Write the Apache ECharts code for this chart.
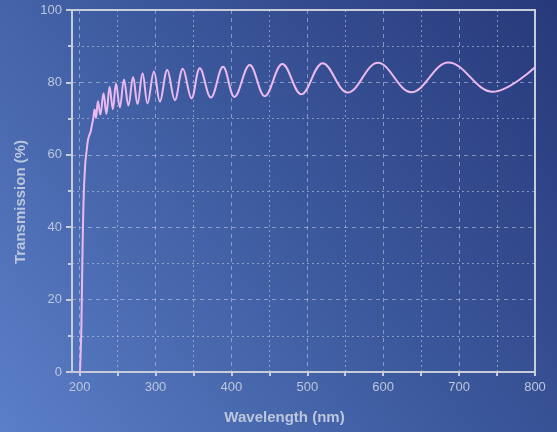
<!DOCTYPE html>
<html>
<head>
<meta charset="utf-8">
<script src="https://cdn.jsdelivr.net/npm/echarts@6/dist/echarts.min.js"></script>
<style>
  html, body { margin: 0; padding: 0; }
  #chart { width: 557px; height: 432px; }
</style>
</head>
<body>
<div id="chart"></div>
<script>
// wavelength (nm): peaks and troughs of the fringes
const wavelength = [200.5, 201.2, 202.3, 203.6, 205.4, 207.5, 209.5, 211, 213, 214.6,
  216.3, 218, 219.8, 221.6, 224.2, 227.3, 231.5, 235.3, 239.5, 243.8,
  248, 253, 258.5, 264.3, 270.5, 276.3, 283, 289.5, 298, 305.8,
  315.5, 325.5, 336, 347.5, 358.4, 373, 389, 404, 424.2, 444,
  467.2, 492.2, 520.3, 553.2, 593, 637, 686, 744.3, 800]
// transmission (%)
const transmission = [0, 4, 11.6, 30, 48.4, 57.7, 61.5, 64.1, 65.5, 66.4,
  68.3, 70, 72.5, 70.2, 74.8, 71.1, 77, 71.3, 78.8, 72.6,
  79.6, 73.1, 80.8, 73.6, 81.5, 74, 82.5, 74.2, 83, 74.7,
  83.4, 75.1, 83.8, 75.6, 83.9, 75.8, 84.3, 76, 84.8, 76.2,
  85.1, 76.7, 85.3, 77.2, 85.4, 77.3, 85.5, 77.4, 84.2]

const xMajorTicks = [200, 300, 400, 500, 600, 700, 800]
const xMinorTicks = [250, 350, 450, 550, 650, 750]

const axisColor = '#c6ccda'
const labelColor = '#bcc6dc'
const gridColor = 'rgba(200, 210, 230, 0.55)'

const chart = echarts.init(document.getElementById('chart'))

const option = {
  backgroundColor: {
    type: 'linear',
    x: 0, y: 1, x2: 1, y2: 0,
    colorStops: [
      { offset: 0, color: '#5b7fc8' },
      { offset: 0.5, color: '#3d5a9e' },
      { offset: 1, color: '#27397a' }
    ]
  },
  textStyle: { fontFamily: 'Liberation Sans' },
  grid: {
    left: 72,
    right: 22,
    top: 10,
    bottom: 60,
    show: true,
    borderColor: axisColor,
    borderWidth: 2,
    backgroundColor: 'transparent'
  },
  xAxis: [
    {
      type: 'value',
      min: 190,
      max: 800,
      name: 'Wavelength (nm)',
      nameLocation: 'middle',
      nameGap: 38,
      nameTextStyle: {
        color: labelColor,
        fontSize: 15,
        fontWeight: 'bold',
        padding: [0, 38, 0, 0]
      },
      axisLine: { show: true, lineStyle: { color: axisColor, width: 2 } },
      axisTick: {
        show: true,
        length: 4,
        customValues: xMajorTicks,
        lineStyle: { color: axisColor, width: 2 }
      },
      axisLabel: {
        customValues: xMajorTicks,
        color: labelColor,
        fontSize: 13,
        margin: 9
      },
      splitLine: {
        show: true,
        lineStyle: { color: gridColor, type: [4, 4], width: 1 }
      }
    },
    {
      type: 'value',
      min: 190,
      max: 800,
      position: 'bottom',
      axisLine: { show: false },
      axisTick: {
        show: true,
        length: 4,
        customValues: xMinorTicks,
        lineStyle: { color: axisColor, width: 2 }
      },
      axisLabel: { show: false },
      splitLine: {
        show: true,
        lineStyle: { color: gridColor, type: [2, 3], width: 1 }
      }
    }
  ],
  yAxis: {
    type: 'value',
    min: 0,
    max: 100,
    interval: 20,
    name: 'Transmission (%)',
    nameLocation: 'middle',
    nameGap: 44,
    nameTextStyle: {
      color: labelColor,
      fontSize: 15,
      fontWeight: 'bold',
      padding: [0, 22, 0, 0]
    },
    axisLine: { show: true, lineStyle: { color: axisColor, width: 2 } },
    axisTick: { show: true, length: 6, lineStyle: { color: axisColor, width: 2 } },
    minorTick: { show: true, splitNumber: 2, length: 4, lineStyle: { color: axisColor, width: 2 } },
    axisLabel: { color: labelColor, fontSize: 13, margin: 10 },
    splitLine: {
      show: true,
      lineStyle: { color: gridColor, type: [4, 4], width: 1 }
    },
    minorSplitLine: {
      show: true,
      lineStyle: { color: gridColor, type: [2, 3], width: 1 }
    }
  },
  series: [
    {
      type: 'line',
      xAxisIndex: 0,
      data: wavelength.map((w, i) => [w, transmission[i]]),
      smooth: 0.38,
      symbol: 'none',
      lineStyle: { color: '#ecbaf0', width: 2 },
      clip: true
    }
  ]
}

chart.setOption(option)
</script>
</body>
</html>
